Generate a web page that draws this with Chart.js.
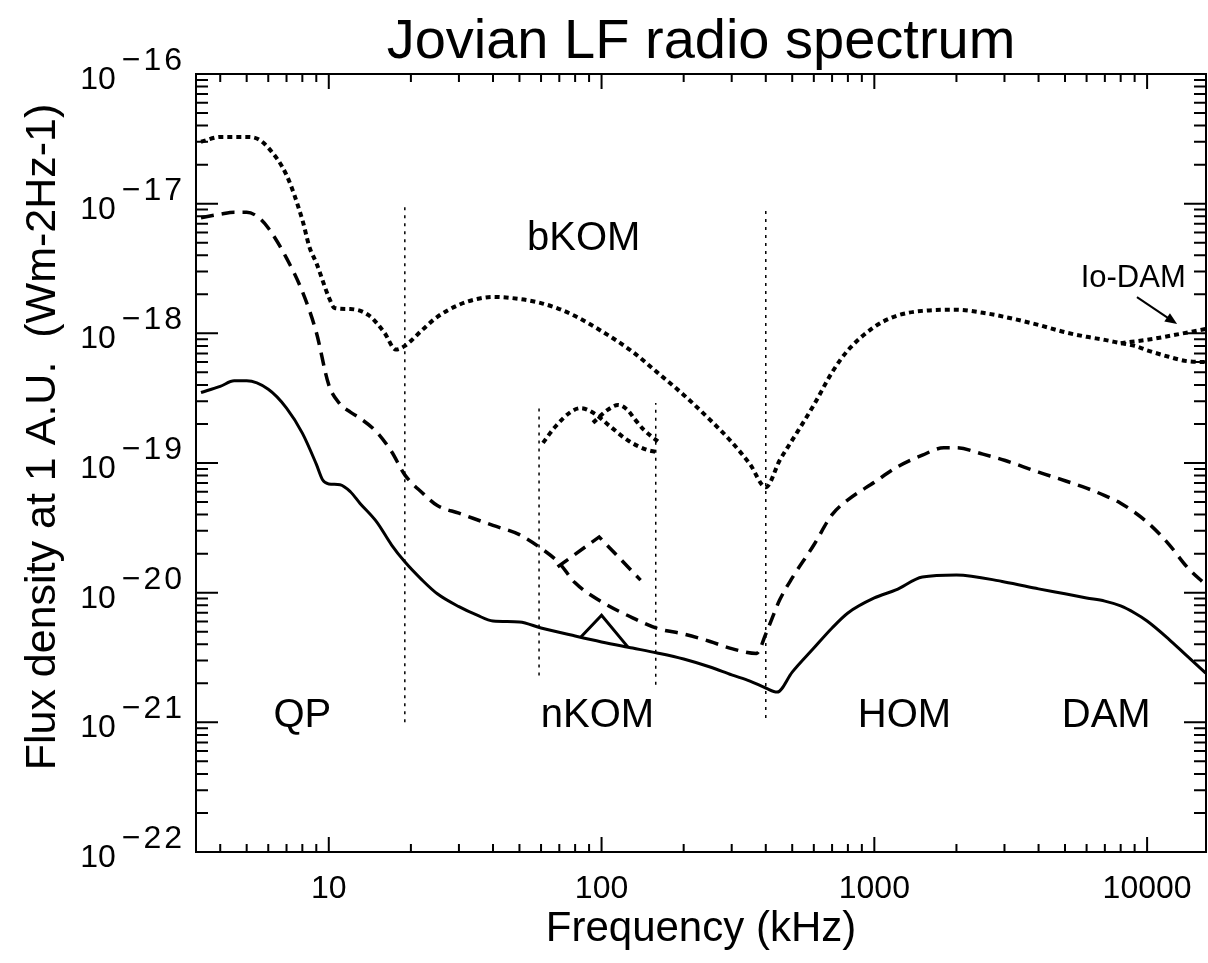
<!DOCTYPE html>
<html>
<head>
<meta charset="utf-8">
<title>Jovian LF radio spectrum</title>
<script src="https://cdn.jsdelivr.net/npm/chart.js@4"></script>
<style>
body { margin: 0; background: #fff; }
#wrap { width: 1208px; height: 963px; position: relative; }
</style>
</head>
<body>
<div id="wrap"><canvas id="graph"></canvas></div>
<script>
// values: frequency in kHz, flux density in W m-2 Hz-1 at 1 A.U.

// solid curve (lowest level)
const lowFreq = [3.4, 4, 4.5, 5, 6, 7, 8, 9, 9.5, 10, 11, 12, 13, 15, 17, 19, 22, 25, 30, 35, 40, 50, 60, 80, 100, 130, 160, 200, 250, 300, 350, 400, 440, 500, 600, 700, 800, 1000, 1200, 1500, 2000, 3000, 4000, 5000, 6000, 7000, 8000, 9000, 10000, 12000, 14000, 16400]
const lowFlux = [3.5e-19, 3.9e-19, 4.3e-19, 4.3e-19, 3.7e-19, 2.65e-19, 1.7e-19, 9.8e-20, 7.4e-20, 6.9e-20, 6.8e-20, 6.0e-20, 4.9e-20, 3.5e-20, 2.33e-20, 1.73e-20, 1.25e-20, 9.8e-21, 7.8e-21, 6.7e-21, 6.05e-21, 5.94e-21, 5.34e-21, 4.63e-21, 4.17e-21, 3.74e-21, 3.43e-21, 3.08e-21, 2.67e-21, 2.32e-21, 2.08e-21, 1.84e-21, 1.71e-21, 2.44e-21, 3.74e-21, 5.34e-21, 6.97e-21, 9.1e-21, 1.05e-20, 1.32e-20, 1.37e-20, 1.21e-20, 1.07e-20, 9.8e-21, 9.1e-21, 8.6e-21, 7.9e-21, 6.97e-21, 6.05e-21, 4.39e-21, 3.25e-21, 2.4e-21]

// dashed curve (middle level)
const midFreq = [3.4, 4, 4.5, 5, 5.5, 6, 7, 8, 9, 10, 11, 12, 13, 15, 17, 19, 22, 25, 30, 40, 50, 60, 70, 80, 100, 130, 160, 200, 250, 300, 370, 400, 450, 500, 600, 700, 800, 1000, 1200, 1500, 1800, 2000, 2500, 3000, 4000, 5000, 6000, 7000, 8000, 10000, 12000, 14000, 16400]
const midFlux = [7.8e-18, 8.3e-18, 8.6e-18, 8.6e-18, 7.9e-18, 6.5e-18, 3.8e-18, 2.1e-18, 1.02e-18, 4.0e-19, 2.85e-19, 2.47e-19, 2.22e-19, 1.73e-19, 1.22e-19, 8.1e-20, 5.9e-20, 4.7e-20, 4.1e-20, 3.3e-20, 2.8e-20, 2.2e-20, 1.69e-20, 1.19e-20, 8.5e-21, 6.4e-21, 5.3e-21, 4.8e-21, 4.2e-21, 3.7e-21, 3.4e-21, 4.8e-21, 8.8e-21, 1.3e-20, 2.33e-20, 4.0e-20, 5.2e-20, 7.1e-20, 9.2e-20, 1.15e-19, 1.31e-19, 1.31e-19, 1.17e-19, 1.05e-19, 8.5e-20, 7.3e-20, 6.4e-20, 5.6e-20, 4.9e-20, 3.5e-20, 2.37e-20, 1.58e-20, 1.15e-20]

// dotted curve (highest level)
const highFreq = [3.4, 4, 5, 5.5, 6, 7, 8, 8.5, 9, 10, 10.5, 12, 14, 16, 17.6, 19, 22, 25, 30, 35, 40, 50, 60, 70, 80, 100, 130, 160, 200, 250, 300, 350, 400, 450, 500, 600, 700, 800, 1000, 1200, 1500, 2000, 2500, 3000, 4000, 5000, 6000, 7000, 8000, 9000, 10000, 12000, 14000, 16400]
const highFlux = [3.0e-17, 3.27e-17, 3.27e-17, 3.15e-17, 2.7e-17, 1.66e-17, 7.5e-18, 4.6e-18, 3.5e-18, 1.9e-18, 1.57e-18, 1.54e-18, 1.38e-18, 1.01e-18, 7.5e-19, 8.0e-19, 1.06e-18, 1.34e-18, 1.66e-18, 1.84e-18, 1.91e-18, 1.84e-18, 1.71e-18, 1.54e-18, 1.36e-18, 1.04e-18, 7.2e-19, 5.0e-19, 3.35e-19, 2.15e-19, 1.45e-19, 9.8e-20, 6.5e-20, 1.05e-19, 1.5e-19, 2.8e-19, 5.0e-19, 7.4e-19, 1.12e-18, 1.36e-18, 1.49e-18, 1.52e-18, 1.44e-18, 1.34e-18, 1.16e-18, 1.02e-18, 9.4e-19, 8.9e-19, 8.4e-19, 8.0e-19, 7.4e-19, 6.6e-19, 6.1e-19, 6.0e-19]

// Io-DAM branch of the dotted curve
const ioFreq = [8000, 10300, 13200, 16400]
const ioFlux = [8.4e-19, 9.0e-19, 9.9e-19, 1.08e-18]

// nKOM bumps
const nkomHighAFreq = [61, 67, 77, 84, 93.5, 108, 124.5, 147, 158]
const nkomHighAFlux = [1.43e-19, 1.86e-19, 2.47e-19, 2.65e-19, 2.43e-19, 1.9e-19, 1.5e-19, 1.26e-19, 1.22e-19]
const nkomHighBFreq = [93, 105, 115, 124.5, 133, 143, 162]
const nkomHighBFlux = [2.04e-19, 2.56e-19, 2.8e-19, 2.56e-19, 2.15e-19, 1.8e-19, 1.45e-19]
const nkomMidFreq = [69, 98, 139]
const nkomMidFlux = [1.58e-20, 2.69e-20, 1.25e-20]
const nkomLowFreq = [84, 100, 125]
const nkomLowFlux = [4.55e-21, 6.7e-21, 3.8e-21]

// component boundaries (thin dotted verticals)
const boundaryFreq = [19, 59, 158, 400]
const boundaryTop = [1.0e-17, 2.7e-19, 2.9e-19, 9.4e-18]
const boundaryBottom = [1.0e-21, 2.3e-21, 1.95e-21, 1.08e-21]

// labels of the emission components
const regionNames = ['QP', 'bKOM', 'nKOM', 'HOM', 'DAM']
const regionFreq = [8, 86, 96.6, 1290, 7080]
const regionFlux = [9.2e-22, 4.4e-18, 9.2e-22, 9.2e-22, 9.2e-22]

// axis ticks
const xTickLabels = [10, 100, 1000, 10000]
const yTickExponents = [-16, -17, -18, -19, -20, -21, -22]

const FONT = '"Liberation Sans", Arial, sans-serif'

function pts(fr, fl) {
    return fr.map((f, i) => ({ x: f, y: fl[i] }))
}

function curve(fr, fl, dash, width, smooth) {
    return {
        data: pts(fr, fl),
        showLine: true,
        borderColor: '#000',
        borderWidth: width,
        borderDash: dash,
        borderCapStyle: 'butt',
        pointRadius: 0,
        cubicInterpolationMode: smooth ? 'monotone' : 'default',
        tension: 0,
        fill: false
    }
}

let datasets = [
    curve(highFreq, highFlux, [5, 4], 4, true),
    curve(ioFreq, ioFlux, [5, 4], 4, true),
    curve(nkomHighAFreq, nkomHighAFlux, [5, 4], 4, true),
    curve(nkomHighBFreq, nkomHighBFlux, [5, 4], 4, true),
    curve(midFreq, midFlux, [13, 8], 3.5, true),
    curve(nkomMidFreq, nkomMidFlux, [13, 8], 3.5, false),
    curve(lowFreq, lowFlux, [], 3, true),
    curve(nkomLowFreq, nkomLowFlux, [], 3, false),
]

boundaryFreq.forEach((f, i) => {
    datasets.push({
        data: [{ x: f, y: boundaryBottom[i] }, { x: f, y: boundaryTop[i] }],
        showLine: true,
        borderColor: '#000',
        borderWidth: 1.5,
        borderDash: [3, 5],
        pointRadius: 0,
        fill: false
    })
})

// frame, inward ticks, labels and annotations
const decorations = {
    id: 'decorations',
    afterDraw(chart) {
        const { ctx, chartArea: a, scales: { x, y } } = chart
        ctx.save()
        ctx.strokeStyle = '#000'
        ctx.fillStyle = '#000'
        ctx.lineWidth = 2
        ctx.strokeRect(a.left, a.top, a.right - a.left, a.bottom - a.top)

        // x ticks, top and bottom
        for (let e = 0; e <= 4; e++) {
            for (let m = 1; m <= 9; m++) {
                const v = m * Math.pow(10, e)
                if (v < x.min || v > x.max) continue
                const px = x.getPixelForValue(v)
                const len = m === 1 ? 15 : 8
                ctx.beginPath()
                ctx.moveTo(px, a.bottom); ctx.lineTo(px, a.bottom - len)
                ctx.moveTo(px, a.top); ctx.lineTo(px, a.top + len)
                ctx.stroke()
            }
        }
        // y ticks, left and right
        for (let e = -22; e <= -16; e++) {
            for (let m = 1; m <= 9; m++) {
                const v = m * Math.pow(10, e)
                if (v < y.min * 0.999 || v > y.max * 1.001) continue
                const py = y.getPixelForValue(v)
                const len = m === 1 ? 22 : 12
                ctx.beginPath()
                ctx.moveTo(a.left, py); ctx.lineTo(a.left + len, py)
                ctx.moveTo(a.right, py); ctx.lineTo(a.right - len, py)
                ctx.stroke()
            }
        }

        // tick labels
        ctx.font = '32px ' + FONT
        ctx.textAlign = 'center'
        ctx.textBaseline = 'alphabetic'
        xTickLabels.forEach(v => {
            ctx.fillText(String(v), x.getPixelForValue(v), a.bottom + 46)
        })
        ctx.textAlign = 'left'
        yTickExponents.forEach(e => {
            const py = y.getPixelForValue(Math.pow(10, e))
            const sup = '\u2212' + Math.abs(e)
            ctx.letterSpacing = '3px'
            const wSup = ctx.measureText(sup).width
            const right = a.left - 11
            ctx.fillText(sup, right - wSup, py - 4)
            ctx.letterSpacing = '0px'
            const wBase = ctx.measureText('10').width
            ctx.fillText('10', right - wSup - 6 - wBase, py + 15)
        })

        // title and axis titles
        ctx.textAlign = 'center'
        ctx.font = '56px ' + FONT
        ctx.fillText('Jovian LF radio spectrum', (a.left + a.right) / 2, 58)
        ctx.font = '42px ' + FONT
        ctx.fillText('Frequency (kHz)', (a.left + a.right) / 2, 941)
        ctx.save()
        ctx.translate(55, 437)
        ctx.rotate(-Math.PI / 2)
        ctx.font = '43px ' + FONT
        ctx.fillText('Flux density at 1 A.U.  (Wm-2Hz-1)', 0, 0)
        ctx.restore()

        // component names
        ctx.font = '40px ' + FONT
        regionNames.forEach((n, i) => {
            ctx.fillText(n, x.getPixelForValue(regionFreq[i]), y.getPixelForValue(regionFlux[i]))
        })
        ctx.font = '31px ' + FONT
        ctx.fillText('Io-DAM', x.getPixelForValue(8890), y.getPixelForValue(2.28e-18))

        // arrow to the Io-DAM branch
        const x0 = x.getPixelForValue(9180), y0 = y.getPixelForValue(1.9e-18)
        const x1 = x.getPixelForValue(12880), y1 = y.getPixelForValue(1.18e-18)
        const ang = Math.atan2(y1 - y0, x1 - x0)
        ctx.lineWidth = 2
        ctx.beginPath()
        ctx.moveTo(x0, y0)
        ctx.lineTo(x1 - 8 * Math.cos(ang), y1 - 8 * Math.sin(ang))
        ctx.stroke()
        ctx.beginPath()
        ctx.moveTo(x1, y1)
        ctx.lineTo(x1 - 13 * Math.cos(ang - 0.4), y1 - 13 * Math.sin(ang - 0.4))
        ctx.lineTo(x1 - 13 * Math.cos(ang + 0.4), y1 - 13 * Math.sin(ang + 0.4))
        ctx.closePath()
        ctx.fill()
        ctx.restore()
    }
}

let graph = new Chart(document.getElementById('graph').getContext('2d'), {
    type: 'scatter',
    data: { datasets: datasets },
    options: {
        responsive: true,
        maintainAspectRatio: false,
        animation: false,
        events: [],
        layout: { padding: { left: 196, top: 74, right: 2, bottom: 111 } },
        plugins: { legend: { display: false }, tooltip: { enabled: false } },
        scales: {
            x: { type: 'logarithmic', min: 3.26, max: 16440, display: false },
            y: { type: 'logarithmic', min: 1e-22, max: 1e-16, display: false }
        }
    },
    plugins: [decorations]
})
</script>
</body>
</html>
